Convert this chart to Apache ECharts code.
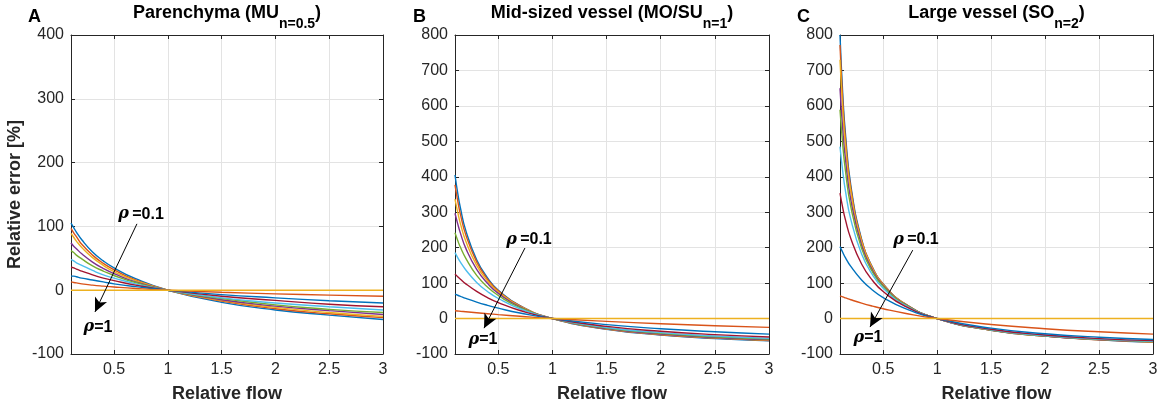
<!DOCTYPE html>
<html>
<head>
<meta charset="utf-8">
<script src="https://cdn.jsdelivr.net/npm/echarts@6/dist/echarts.min.js"></script>
<style>
  html, body { margin: 0; padding: 0; background: #fff; }
  #main { width: 1170px; height: 406px; }
</style>
</head>
<body>
<div id="main"></div>
<script>
  // relative flow, shared x samples of every curve
  var flow = [0.1, 0.125, 0.15, 0.2, 0.3, 0.4, 0.5, 0.7, 1, 1.5, 2, 2.5, 3];
  // rho = 0.1 ... 1 (one curve each)
  var rhoValues = [0.1, 0.2, 0.3, 0.4, 0.5, 0.6, 0.7, 0.8, 0.9, 1];

  // relative error [%] - parenchyma (MU, n=0.5)
  var errParenchyma = [
    [105, 98, 91, 79, 60, 46, 35, 18, 0, -19, -31, -39, -46],
    [97, 90, 84, 72, 55, 42, 32, 16, 0, -17, -29, -37, -43],
    [89, 83, 77, 67, 51, 39, 29, 15, 0, -16, -27, -35, -41],
    [74, 69, 65, 57, 44, 34, 26, 13, 0, -15, -25, -32, -38],
    [62, 59, 55, 49, 38, 30, 23, 12, 0, -13, -23, -30, -35],
    [48, 46, 43, 39, 31, 24, 19, 10, 0, -12, -20, -26, -31],
    [36, 35, 33, 30, 24, 19, 15, 8, 0, -9.5, -16, -22, -26],
    [22, 22, 21, 19, 16, 13, 10, 5.6, 0, -7, -12, -16.5, -20],
    [13, 12, 11.5, 10, 8, 6.4, 5, 2.7, 0, -3.3, -5.7, -7.7, -9.4],
    [0, 0, 0, 0, 0, 0, 0, 0, 0, 0, 0, 0, 0]
  ];

  // relative error [%] - mid-sized vessel (MO/SU, n=1)
  var errMidVessel = [
    [405, 354, 312, 248, 166, 115, 80, 36.5, 0, -30.3, -46.3, -56.2, -63],
    [377, 332, 294, 236, 160, 111, 78, 36, 0, -29.7, -45.5, -55.3, -62],
    [337, 300, 268, 218, 150, 106, 75, 34.6, 0, -29, -44.5, -54.2, -61],
    [297, 267, 241, 198, 139, 99.5, 71, 33, 0, -28.3, -43.7, -53.4, -60],
    [242, 220, 201, 170, 122, 89, 65, 31, 0, -26.8, -41.8, -51.3, -58],
    [186, 172, 159, 137, 102, 76.5, 56.6, 27.7, 0, -25.1, -39.8, -49.3, -56],
    [126, 118, 111, 98, 76.6, 59, 45, 22.8, 0, -22.2, -36, -45.3, -52],
    [69, 65.8, 62.8, 57, 46.5, 37.4, 29.3, 15.7, 0, -17.1, -28.8, -37.4, -44],
    [22, 21.3, 20.5, 19.1, 16.3, 13.7, 11.1, 6.4, 0, -8, -14.6, -20.2, -25],
    [0, 0, 0, 0, 0, 0, 0, 0, 0, 0, 0, 0, 0]
  ];

  // relative error [%] - large vessel (SO, n=2)
  var errLargeVessel = [
    [800, 636, 523, 376, 224, 145, 97.6, 42.1, 0, -33.1, -49.7, -59.7, -67],
    [772, 618, 510, 369, 221, 144, 96.8, 41.9, 0, -33, -49.6, -59.6, -66],
    [730, 590, 491, 358, 217, 142, 95.5, 41.5, 0, -32.8, -49.4, -59.4, -66],
    [650, 535, 451, 335, 207, 137, 92.9, 40.6, 0, -32.5, -49.1, -59.1, -65],
    [589, 492, 419, 316, 198, 132, 90.4, 39.8, 0, -32.2, -48.7, -58.8, -65],
    [485, 416, 361, 280, 182, 124, 85.4, 38.2, 0, -31.5, -47.9, -58, -64],
    [354, 313, 279, 226, 154, 108, 76.4, 35.1, 0, -30.2, -46.4, -56.5, -62],
    [203, 187, 172, 147, 109, 80.7, 59.3, 28.7, 0, -27.1, -42.7, -52.7, -59],
    [64, 61.1, 58.4, 53.1, 43.6, 35.2, 27.7, 15, 0, -16.9, -28.6, -37.3, -44],
    [0, 0, 0, 0, 0, 0, 0, 0, 0, 0, 0, 0, 0]
  ];

  var panelData = [errParenchyma, errMidVessel, errLargeVessel];
  var panelLetters = ['A', 'B', 'C'];
  var panelTitles = [['Parenchyma (MU', 'n=0.5', ')'], ['Mid-sized vessel (MO/SU', 'n=1', ')'], ['Large vessel (SO', 'n=2', ')']];
  var yMax = [400, 800, 800];

  // arrow "rho=0.1 -> rho=1" in data units: [x0, y0, x1, y1]
  var arrows = [[0.713, 104, 0.323, -34], [0.746, 199, 0.368, -27], [0.774, 193, 0.378, -24]];
  var topLabelPos = [[0.751, 119], [0.783, 222], [0.804, 222]];
  var bottomLabelPos = [[0.351, -58], [0.359, -60], [0.359, -55]];

  // MATLAB default line colour order
  var colors = ['#0072BD', '#D95319', '#EDB120', '#7E2F8E', '#77AC30', '#4DBEEE', '#A2142F'];

  var ink = '#262626';
  var font = 'Liberation Sans, Arial, Helvetica, sans-serif';
  var grids = [
    {left: 71, top: 35, width: 312, height: 319, outerBoundsMode: 'none'},
    {left: 455, top: 35, width: 314, height: 319, outerBoundsMode: 'none'},
    {left: 840, top: 35, width: 313, height: 319, outerBoundsMode: 'none'}
  ];

  var xAxes = [], yAxes = [], series = [], graphics = [];

  grids.forEach(function (g, p) {
    xAxes.push({
      type: 'value', gridIndex: p, min: 0.1, max: 3, splitNumber: 6,
      name: 'Relative flow', nameLocation: 'middle', nameGap: 31,
      nameTextStyle: {fontFamily: font, fontWeight: 'bold', fontSize: 18, color: ink},
      axisLine: {show: true, onZero: false, lineStyle: {color: ink, width: 1}},
      axisTick: {show: true, inside: true, length: 4, lineStyle: {color: ink}},
      axisLabel: {showMinLabel: false, color: ink, fontFamily: font, fontSize: 16, margin: 8},
      splitLine: {show: true, lineStyle: {color: '#e3e3e3', width: 1}}
    });
    xAxes.push({
      type: 'value', gridIndex: p, min: 0.1, max: 3, splitNumber: 6, position: 'top',
      axisLine: {show: true, onZero: false, lineStyle: {color: ink, width: 1}},
      axisTick: {show: true, inside: true, length: 4, lineStyle: {color: ink}},
      axisLabel: {show: false}, splitLine: {show: false}
    });
    yAxes.push({
      type: 'value', gridIndex: p, min: -100, max: yMax[p], interval: 100,
      name: p === 0 ? 'Relative error [%]' : '', nameLocation: 'middle', nameGap: 47,
      nameTextStyle: {fontFamily: font, fontWeight: 'bold', fontSize: 18, color: ink},
      axisLine: {show: true, onZero: false, lineStyle: {color: ink, width: 1}},
      axisTick: {show: true, inside: true, length: 4, lineStyle: {color: ink}},
      axisLabel: {color: ink, fontFamily: font, fontSize: 16, margin: 7},
      splitLine: {show: true, lineStyle: {color: '#e3e3e3', width: 1}}
    });
    yAxes.push({
      type: 'value', gridIndex: p, min: -100, max: yMax[p], interval: 100, position: 'right',
      axisLine: {show: true, onZero: false, lineStyle: {color: ink, width: 1}},
      axisTick: {show: true, inside: true, length: 4, lineStyle: {color: ink}},
      axisLabel: {show: false}, splitLine: {show: false}
    });

    panelData[p].forEach(function (row, r) {
      series.push({
        type: 'line', name: 'rho=' + rhoValues[r],
        xAxisIndex: p * 2, yAxisIndex: p * 2,
        data: flow.map(function (f, i) { return [f, row[i]]; }),
        showSymbol: false, smooth: 0.5, silent: true,
        lineStyle: {width: 1.4, color: colors[r % colors.length]},
        itemStyle: {color: colors[r % colors.length]}
      });
    });

    // annotation arrow and labels
    var a = arrows[p];
    series.push({
      type: 'line', xAxisIndex: p * 2, yAxisIndex: p * 2, data: [], silent: true,
      markLine: {
        silent: true, symbol: ['none', 'arrow'], symbolSize: [10, 14], animation: false,
        lineStyle: {color: '#000', width: 1, type: 'solid'}, label: {show: false},
        data: [[{coord: [a[0], a[1]]}, {coord: [a[2], a[3]]}]]
      },
      markPoint: {
        silent: true, symbol: 'circle', symbolSize: 0, animation: false,
        label: {
          show: true, position: 'inside', color: '#000',
          rich: {
            r: {fontFamily: 'DejaVu Serif', fontStyle: 'italic', fontWeight: 'bold', fontSize: 16, color: '#000'},
            b: {fontFamily: font, fontWeight: 'bold', fontSize: 16, color: '#000'}
          }
        },
        data: [
          {coord: topLabelPos[p], label: {formatter: '{r|\u03c1} {b|=0.1}'}},
          {coord: bottomLabelPos[p], label: {formatter: '{r|\u03c1}{b|=1}'}}
        ]
      }
    });

    var cx = g.left + g.width / 2;
    graphics.push({
      type: 'text', x: cx, y: 4, silent: true,
      style: {
        text: '{t|' + panelTitles[p][0] + '}{s|' + panelTitles[p][1] + '}{t|' + panelTitles[p][2] + '}',
        align: 'center', verticalAlign: 'top', fill: '#000',
        rich: {
          t: {fontFamily: font, fontWeight: 'bold', fontSize: 18, lineHeight: 20, verticalAlign: 'top', fill: '#000'},
          s: {fontFamily: font, fontWeight: 'bold', fontSize: 14, lineHeight: 14, padding: [13, 0, 0, 0], verticalAlign: 'top', fill: '#000'}
        }
      }
    });
    graphics.push({
      type: 'text', x: [28, 413, 797][p], y: 8, silent: true,
      style: {text: panelLetters[p], fontFamily: font, fontWeight: 'bold', fontSize: 18, fill: '#000'}
    });
  });

  var chart = echarts.init(document.getElementById('main'));
  chart.setOption({
    animation: false,
    backgroundColor: '#fff',
    grid: grids,
    xAxis: xAxes,
    yAxis: yAxes,
    series: series,
    graphic: graphics
  });
</script>
</body>
</html>
